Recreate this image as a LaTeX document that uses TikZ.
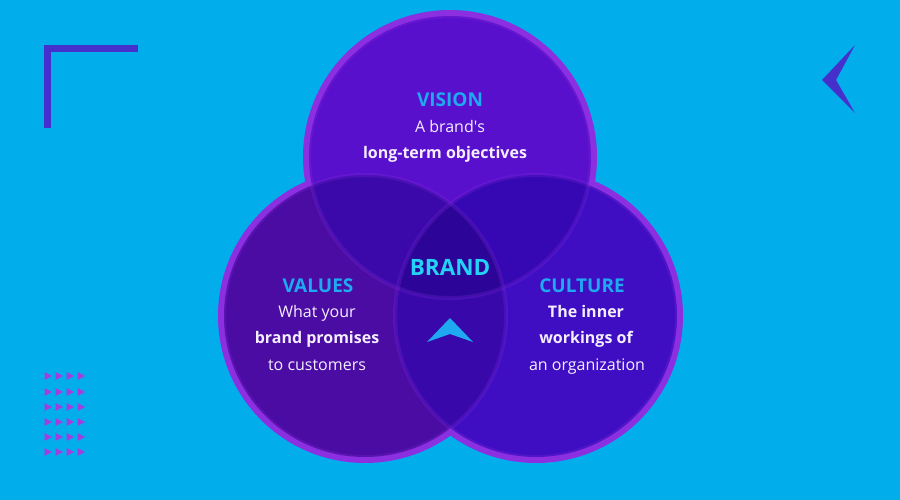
\documentclass[tikz,border=0pt]{standalone}
\usepackage{fontspec}
\setmainfont{Open Sans}

\definecolor{bgblue}{HTML}{02ADEB}
\definecolor{ringpurple}{HTML}{8C2FE0}
\definecolor{visionfill}{HTML}{5910CC}
\definecolor{valuesfill}{HTML}{4B0CA3}
\definecolor{culturefill}{HTML}{3F0EC3}
\definecolor{tlfill}{HTML}{3B09AA}
\definecolor{trfill}{HTML}{3608B3}
\definecolor{lrfill}{HTML}{3808AB}
\definecolor{midfill}{HTML}{2C0598}
\definecolor{headcyan}{HTML}{1EA9F0}
\definecolor{brandcyan}{HTML}{24D2F5}
\definecolor{cornerblue}{HTML}{4530CC}
\definecolor{dotpink}{HTML}{A23EE0}
\definecolor{softwhite}{HTML}{F4EEFF}

\tikzset{
    ring/.style={draw=ringpurple, line width=12pt},
    head/.style={anchor=base, text=headcyan, font=\fontsize{19}{21}\selectfont\bfseries},
    body/.style={anchor=base, text=softwhite, font=\fontsize{16}{18}\selectfont},
    bodybold/.style={body, font=\fontsize{16}{18}\selectfont\bfseries},
}

\begin{document}
\begin{tikzpicture}[x=1pt, y=-1pt]
    \fill[bgblue] (0,0) rectangle (900,500);
    \useasboundingbox (0,0) rectangle (900,500);

    \def\rin{141pt}
    \coordinate (vision) at (450,157);
    \coordinate (values) at (365,316);
    \coordinate (culture) at (536,316);

    % outer rings, then the discs
    \foreach \c in {vision,values,culture}
        \draw[ring] (\c) circle (\rin);
    \fill[visionfill] (vision) circle (\rin);
    \fill[valuesfill] (values) circle (\rin);
    \fill[culturefill] (culture) circle (\rin);

    % overlaps
    \begin{scope}
        \clip (vision) circle (\rin);
        \fill[tlfill] (values) circle (\rin);
        \fill[trfill] (culture) circle (\rin);
    \end{scope}
    \begin{scope}
        \clip (values) circle (\rin);
        \fill[lrfill] (culture) circle (\rin);
    \end{scope}
    \begin{scope}
        \clip (vision) circle (\rin);
        \clip (values) circle (\rin);
        \fill[midfill] (culture) circle (\rin);
    \end{scope}

    \foreach \c in {vision,values,culture}
        \draw[ringpurple, draw opacity=0.22, line width=4pt] (\c) circle (\rin);

    % texts
    \node[head] (visionhead) at (450,107) {VISION};
    \node[body] (visiona) at (450,133) {A brand\textquotesingle s};
    \node[bodybold] (visionb) at (445,159) {long-term objectives};

    \node[head] (valueshead) at (318,292) {VALUES};
    \node[body] (valuesa) at (317,317) {What your};
    \node[bodybold] (valuesb) at (317,343) {brand promises};
    \node[body] (valuesc) at (317,370) {to customers};

    \node[head] (culturehead) at (582,292) {CULTURE};
    \node[bodybold] (culturea) at (586,317) {The inner};
    \node[bodybold] (cultureb) at (586,343) {workings of};
    \node[body] (culturec) at (587,370) {an organization};

    \node[anchor=base, text=brandcyan, font=\fontsize{22.5}{24}\selectfont\bfseries] (brand) at (450,275) {BRAND};
    \fill[headcyan] (450,318) -- (473,342) -- (450,334) -- (427,342) -- cycle;

    % decorations
    \draw[cornerblue, line width=7pt] (138,48.5) -- (47,48.5) -- (47,128);
    \fill[cornerblue] (855,45) -- (822,80) -- (855,113) -- (836,80) -- cycle;
    \foreach \x in {48,59,70,81}
        \foreach \y in {376,392,407,422,437,452}
            \fill[dotpink] (\x-3.5,\y-4) -- (\x+4,\y) -- (\x-3.5,\y+4) -- cycle;
\end{tikzpicture}
\end{document}
